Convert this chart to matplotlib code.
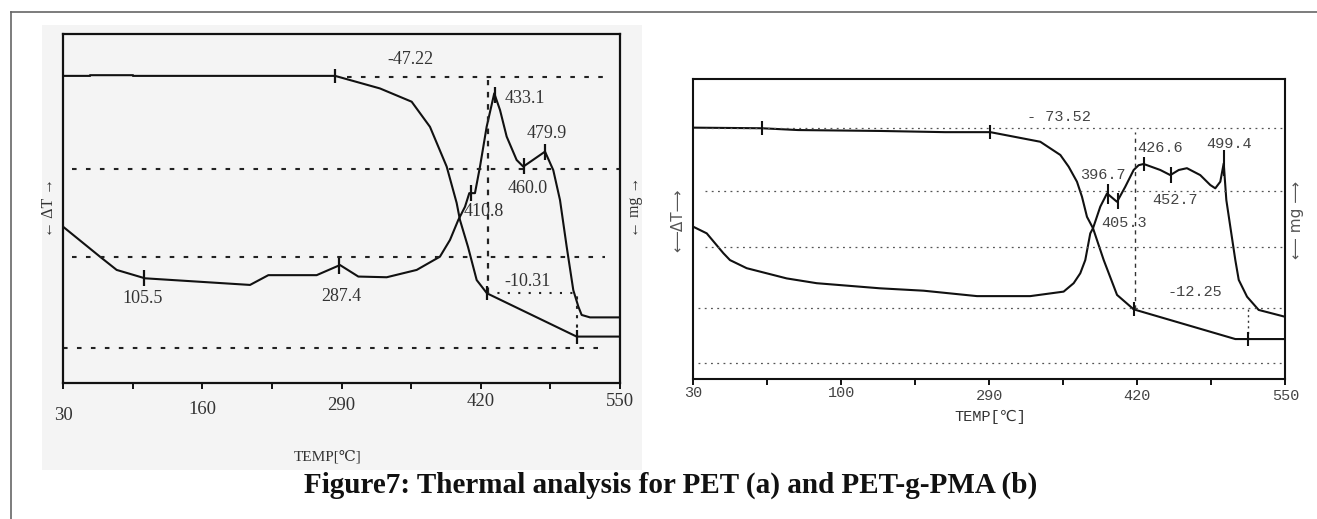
import numpy as np
import matplotlib
matplotlib.use("Agg")
import matplotlib.pyplot as plt
from matplotlib.lines import Line2D
from matplotlib.patches import Rectangle

# ---------------- data : panel (a) PET ----------------
a_tg_temp = [30, 55.2, 55.3, 95.3, 95.4, 284, 325.9, 355.5, 372.6, 388.2, 397.5,
             400.6, 408.1, 416.2, 425.8, 509.5, 550]
a_tg_val = [88.0, 88.0, 88.2, 88.2, 88.0, 88.0, 84.4, 80.6, 73.4, 62.0, 51.6,
            46.7, 39.0, 29.5, 25.7, 13.3, 13.3]
a_dta_temp = [30, 64.5, 80.1, 106.5, 204.6, 221.7, 266.8, 288.6, 305.7, 332.2,
              360.2, 381.9, 391.3, 399, 405.3, 409.3, 414.6, 419.3, 425.5, 432.6,
              438, 444.2, 453.5, 459.7, 480, 487.7, 494, 500.2, 506.4, 511.1,
              514.2, 522, 532.9, 550]
a_dta_val = [44.8, 36.2, 32.4, 30.0, 28.1, 30.9, 30.9, 33.8, 30.5, 30.3,
             32.4, 36.2, 41.0, 46.7, 50.5, 54.4, 54.4, 62.0, 73.4, 83.0,
             78.2, 70.6, 63.9, 62.0, 66.3, 61.0, 52.4, 39.1, 26.6, 21.9,
             19.5, 18.8, 18.8, 18.8]
a_tg_marks = [284, 425.8, 509.5]
a_dta_marks = [105.5, 287.4, 410.8, 433.1, 460.0, 479.9]
a_labels = ["-47.22", "433.1", "479.9", "460.0", "410.8", "105.5", "287.4", "-10.31"]
a_hlines = [87.8, 61.2, 36.2, 9.9]
a_hline_span = [(295, 536), (38.4, 550), (38.4, 536), (30, 536)]

# ---------------- data : panel (b) PET-g-PMA ----------------
b_tg_temp = [30, 90.1, 122, 194, 251.1, 290.9, 334.8, 352.4, 359.7, 367, 371.4,
             375.8, 381.1, 390.5, 402.2, 416.8, 506.1, 550]
b_tg_val = [83.8, 83.6, 83.0, 82.7, 82.3, 82.3, 79.1, 74.7, 70.8, 65.8, 60.8,
            54.1, 50.3, 39.7, 28.1, 23.3, 13.4, 13.4]
b_dta_temp = [30, 41.8, 56.4, 62.2, 76.9, 112, 138.4, 194, 232.4, 279.2,
              326, 355.3, 364.1, 369.9, 374.3, 378.7, 381.1, 387.5, 393.4, 402.2,
              409.4, 416.8, 421.2, 425.6, 440.2, 449, 456.4, 463.6, 475.3, 484.1,
              488.5, 492.9, 495.9, 498.2, 501.7, 506.1, 509.1, 516.4, 526.6, 550]
b_dta_val = [50.8, 48.6, 42.0, 39.7, 37.0, 33.6, 32.0, 30.3, 29.5, 27.7,
             27.7, 29.2, 32.0, 35.3, 39.7, 48.6, 50.3, 57.5, 61.9, 59.1,
             64.1, 69.7, 71.3, 71.7, 69.7, 68.0, 69.7, 70.3, 68.0, 64.7,
             63.6, 65.8, 71.9, 59.7, 50.8, 39.7, 33.1, 27.5, 23.1, 20.8]
b_tg_marks = [90.1, 290.9, 416.8, 517.4]
b_dta_marks = [394.3, 402.8, 425.6, 449.5, 495.9]
b_labels = ["- 73.52", "426.6", "499.4", "396.7", "452.7", "405.3", "-12.25"]
b_hlines = [83.6, 62.8, 44.2, 23.6, 5.3]
b_hline_span = [(40, 550), (40.4, 547), (40.4, 547), (34.3, 547), (34.3, 547)]

tick_pos = [30, 95, 160, 225, 290, 355, 420, 485, 550]
label_pos = [30, 160, 290, 420, 550]
a_ticklabels = ["30", "160", "290", "420", "550"]
b_ticklabels = ["30", "100", "290", "420", "550"]

# ---------------- layout / style ----------------
W, H = 1317, 519
fig = plt.figure(figsize=(W / 100, H / 100), dpi=100)
fig.patch.set_facecolor("white")

def fx(px):
    return px / W

def fy(py):
    return 1 - py / H

SERIF = ["Liberation Serif", "DejaVu Serif", "DejaVu Sans"]
MONO = ["Liberation Mono", "DejaVu Sans Mono", "DejaVu Sans"]

# outer frame (top + left)
fig.add_artist(Line2D([fx(11), 1], [fy(12), fy(12)], color="#666666", lw=1.2))
fig.add_artist(Line2D([fx(11), fx(11)], [0, fy(12)], color="#666666", lw=1.2))

# grey background of panel (a)
fig.add_artist(Rectangle((fx(42), fy(470)), fx(600), 445 / H, facecolor="#f4f4f4",
                         edgecolor="none", zorder=0))

ax_a = fig.add_axes([fx(63), fy(383), fx(557), 349 / H])
ax_b = fig.add_axes([fx(693.3), fy(379.3), fx(592), 300.3 / H])

for ax, fc, lw in ((ax_a, "#f4f4f4", 1.6), (ax_b, "white", 1.5)):
    ax.set_facecolor(fc)
    ax.set_xlim(30, 550)
    ax.set_ylim(0, 100)
    ax.set_yticks([])
    ax.set_xticks(tick_pos)
    ax.tick_params(axis="x", direction="out", length=4, width=1.4, labelbottom=False,
                   color="#111111")
    for s in ax.spines.values():
        s.set_linewidth(lw)
        s.set_color("#111111")

# ---- panel (a) ----
ax_a.plot(a_tg_temp, a_tg_val, color="#111111", lw=1.5)
ax_a.plot(a_dta_temp, a_dta_val, color="#111111", lw=1.5)
for yv, (x0, x1) in zip(a_hlines, a_hline_span):
    ax_a.plot([x0, x1], [yv, yv], color="#222222", lw=1.5, ls=(0, (2.2, 4.5)))
a_tg_y = np.interp(a_tg_marks, a_tg_temp, a_tg_val)
a_dta_y = np.interp(a_dta_marks, a_dta_temp, a_dta_val)
ax_a.plot([a_tg_marks[1], a_tg_marks[2]], [a_tg_y[1], a_tg_y[1]], color="#222222",
          lw=1.5, ls=(0, (1, 4)))
ax_a.plot([427, 427], [a_tg_y[1], 86.8], color="#222222", lw=1.6, ls=(0, (2.5, 3)))
ax_a.plot([a_tg_marks[2]] * 2, [a_tg_y[2], a_tg_y[1]], color="#222222", lw=1.5,
          ls=(0, (1.5, 3)))
ax_a.plot(a_tg_marks, a_tg_y, ls="none", marker="|", ms=10, mew=1.6, color="#111111")
ax_a.plot(a_dta_marks, a_dta_y, ls="none", marker="|", ms=11, mew=1.6, color="#111111")

a_label_xy = [(354, 92.6, "center"), (442.6, 81.6, "left"), (481.5, 71.5, "center"),
              (464.1, 55.8, "center"), (423, 49.1, "center"), (104.7, 24.1, "center"),
              (290.2, 24.9, "center"), (464.1, 29.0, "center")]
for txt, (x, y, ha) in zip(a_labels, a_label_xy):
    ax_a.text(x, y, txt, ha=ha, va="center", fontsize=13, family=SERIF, color="#333333")

a_lab_off = [32, 27, 22, 19, 19]
for t, lab, off in zip(label_pos, a_ticklabels, a_lab_off):
    ax_a.annotate(lab, xy=(t, 0), xycoords=("data", "axes fraction"), xytext=(0, -off),
                  textcoords="offset pixels", ha="center", va="center", fontsize=13.5,
                  family=SERIF, color="#333333")

fig.text(fx(328), fy(457), "TEMP[℃]", ha="center", va="center", fontsize=11,
         family=SERIF, color="#333333")
fig.text(fx(49.3), fy(207), "← ΔT →", ha="center", va="center", rotation=90,
         fontsize=11.5, family=SERIF, color="#333333")
fig.text(fx(635), fy(207), "← mg →", ha="center", va="center", rotation=90,
         fontsize=11.5, family=SERIF, color="#333333")

# ---- panel (b) ----
ax_b.plot(b_tg_temp, b_tg_val, color="#111111", lw=1.5)
ax_b.plot(b_dta_temp, b_dta_val, color="#111111", lw=1.5)
for yv, (x0, x1) in zip(b_hlines, b_hline_span):
    ax_b.plot([x0, x1], [yv, yv], color="#555555", lw=0.9, ls=(0, (1.5, 3.5)))
b_tg_y = np.interp(b_tg_marks, b_tg_temp, b_tg_val)
b_dta_y = np.interp(b_dta_marks, b_dta_temp, b_dta_val)
ax_b.plot([418.2, 418.2], [b_tg_y[2], 82.3], color="#333333", lw=1.0, ls=(0, (3, 3)))
ax_b.plot([b_tg_marks[3]] * 2, [b_tg_y[3], b_hlines[3]], color="#333333", lw=1.0,
          ls=(0, (1.5, 2.5)))
ax_b.plot(b_tg_marks, b_tg_y, ls="none", marker="|", ms=10, mew=1.5, color="#111111")
b_mark_ms = [15, 12, 10, 12, 19]
for t, yv, ms in zip(b_dta_marks, b_dta_y, b_mark_ms):
    ax_b.plot([t], [yv], ls="none", marker="|", ms=ms, mew=1.5, color="#111111")

b_label_xy = [(350.9, 87.4), (440.2, 76.9), (500.3, 78.4), (389.9, 68.0),
              (453.4, 59.7), (408.0, 52.1), (470.9, 29.0)]
for txt, (x, y) in zip(b_labels, b_label_xy):
    ax_b.text(x, y, txt, ha="center", va="center", fontsize=11, family=MONO,
              color="#444444")

b_lab_off = [14, 14, 17, 17, 17]
for t, lab, off in zip(label_pos, b_ticklabels, b_lab_off):
    ax_b.annotate(lab, xy=(t, 0), xycoords=("data", "axes fraction"), xytext=(0, -off),
                  textcoords="offset pixels", ha="center", va="center", fontsize=11,
                  family=MONO, color="#444444")

fig.text(fx(990), fy(416.7), "TEMP[℃]", ha="center", va="center", fontsize=11,
         family=MONO, color="#333333")
fig.text(fx(678), fy(220), "⟵ΔT⟶", ha="center", va="center", rotation=90,
         fontsize=11, family=["DejaVu Sans"], color="#555555")
fig.text(fx(1297), fy(220), "⟵ mg ⟶", ha="center", va="center", rotation=90,
         fontsize=11, family=["DejaVu Sans"], color="#555555")

# caption
fig.text(fx(671), fy(485), "Figure7: Thermal analysis for PET (a) and PET-g-PMA (b)",
         ha="center", va="center", fontsize=21, fontweight="bold",
         family=["Liberation Serif", "DejaVu Serif"], color="#111111")

fig.savefig("out.png", dpi=100)
